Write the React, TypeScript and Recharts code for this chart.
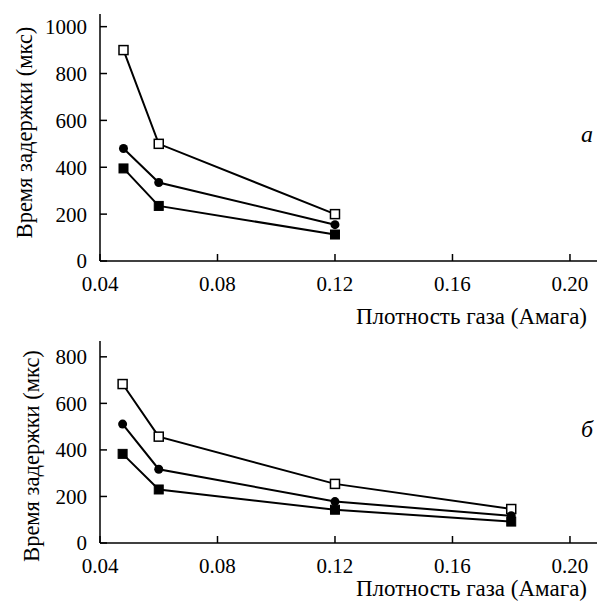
import React from 'react';
import { LineChart, Line, XAxis, YAxis } from 'recharts';

// gas density (Amagat) and delay time (µs)
const densityA = [0.048, 0.06, 0.12];
const openA = [900, 500, 200];
const circleA = [480, 335, 155];
const filledA = [395, 235, 113];

const densityB = [0.0477, 0.06, 0.12, 0.18];
const openB = [683, 457, 254, 146];
const circleB = [511, 317, 178, 117];
const filledB = [383, 230, 143, 92];

const xTicks = [0.04, 0.08, 0.12, 0.16, 0.2];
const yTicksA = [0, 200, 400, 600, 800, 1000];
const yTicksB = [0, 200, 400, 600, 800];

const FONT = 'Liberation Serif';
const tickStyle = { fontFamily: FONT, fontSize: 21, fill: '#000' };
const labelStyle = { fontFamily: FONT, fontSize: 22.5, fill: '#000' };

const OpenSquare = (p: any) => (
  <rect key={p.index} x={p.cx - 4.5} y={p.cy - 4.5} width={9} height={9} fill="#fff" stroke="#000" strokeWidth={1.5} />
);
const FilledSquare = (p: any) => (
  <rect key={p.index} x={p.cx - 4.5} y={p.cy - 4.5} width={9} height={9} fill="#000" stroke="#000" strokeWidth={1} />
);
const FilledCircle = (p: any) => <circle key={p.index} cx={p.cx} cy={p.cy} r={4.5} fill="#000" stroke="none" />;

interface PanelProps {
  density: number[];
  open: number[];
  circle: number[];
  filled: number[];
  yTicks: number[];
  yMax: number;
  height: number;
  top: number;
  xAxisHeight: number;
  yLabelCenter: number;
  yLabelX: number;
  xLabelDy: number;
  letter: string;
  letterY: number;
}

function Panel(props: PanelProps) {
  const data = props.density.map((d, i) => ({
    x: d,
    open: props.open[i],
    circle: props.circle[i],
    filled: props.filled[i],
  }));

  return (
    <LineChart
      width={600}
      height={props.height}
      data={data}
      margin={{ top: props.top, right: 3, bottom: 0, left: 0 }}
    >
      <XAxis
        dataKey="x"
        type="number"
        domain={[0.04, 0.2092]}
        ticks={xTicks}
        tickFormatter={(v: number) => v.toFixed(2)}
        height={props.xAxisHeight}
        stroke="#000"
        strokeWidth={1.5}
        tickSize={-7}
        tickMargin={22.5}
        tick={{ style: tickStyle, fill: '#000' }}
        label={{
          content: ({ viewBox }: any) => (
            <text
              x={viewBox.x + viewBox.width - 10}
              y={viewBox.y + props.xLabelDy}
              textAnchor="end"
              style={{ ...labelStyle, fontSize: 23 }}
            >
              Плотность газа (Амага)
            </text>
          ),
        }}
      />
      <YAxis
        type="number"
        domain={[0, props.yMax]}
        ticks={props.yTicks}
        width={100}
        stroke="#000"
        strokeWidth={1.5}
        tickSize={-7}
        tickMargin={20}
        tick={{ style: tickStyle, fill: '#000' }}
        label={{
          content: () => (
            <text
              transform={`translate(${props.yLabelX},${props.yLabelCenter}) rotate(-90)`}
              textAnchor="middle"
              style={labelStyle}
            >
              Время задержки (мкс)
            </text>
          ),
        }}
      />
      <Line dataKey="open" stroke="#000" strokeWidth={2} dot={OpenSquare} isAnimationActive={false} />
      <Line dataKey="circle" stroke="#000" strokeWidth={2} dot={FilledCircle} isAnimationActive={false} />
      <Line dataKey="filled" stroke="#000" strokeWidth={2} dot={FilledSquare} isAnimationActive={false} />
      <text x={587} y={props.letterY} textAnchor="middle" style={{ ...labelStyle, fontSize: 24, fontStyle: 'italic' }}>
        {props.letter}
      </text>
    </LineChart>
  );
}

export default function App() {
  return (
    <div style={{ position: 'absolute', left: 0, top: 0, width: 600, height: 605, background: '#fff' }}>
      <div style={{ position: 'absolute', left: 0, top: 0 }}>
        <Panel
          density={densityA}
          open={openA}
          circle={circleA}
          filled={filledA}
          yTicks={yTicksA}
          yMax={1054}
          height={330}
          top={14}
          xAxisHeight={69}
          yLabelCenter={132.5}
          yLabelX={32}
          xLabelDy={63}
          letter="а"
          letterY={142}
        />
      </div>
      <div style={{ position: 'absolute', left: 0, top: 330 }}>
        <Panel
          density={densityB}
          open={openB}
          circle={circleB}
          filled={filledB}
          yTicks={yTicksB}
          yMax={868}
          height={275}
          top={11}
          xAxisHeight={62}
          yLabelCenter={126}
          yLabelX={39}
          xLabelDy={53}
          letter="б"
          letterY={107}
        />
      </div>
    </div>
  );
}
